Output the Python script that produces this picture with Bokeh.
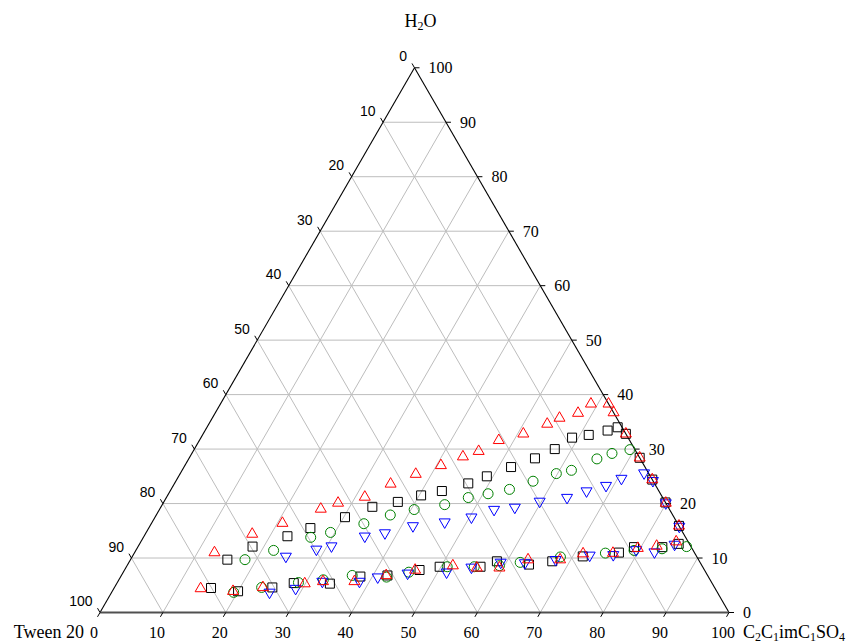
import math
from bokeh.plotting import figure
from bokeh.models import ColumnDataSource, LabelSet
from bokeh.core.properties import value
from bokeh.embed import file_html
from bokeh.resources import INLINE

# ---------------- data (wt%: C2C1imC1SO4, H2O; Tween 20 = 100 - both) ----------------
red_c = [12.7, 17.0, 20.8, 25.6, 27.8, 31.5, 34.4, 37.5, 40.7, 43.4, 45.4, 47.6, 50.9, 53.8,
         55.2, 57.7, 58.9, 61.7, 63.3, 67.2, 71.6, 75.6, 79.9, 84.1,
         85.1, 82.4, 79.6, 76.1, 71.4, 68.3, 63.2, 59.4, 55.8, 51.8, 46.2, 42.1, 37.6, 32.6,
         29.9, 23.6, 19.2, 13.8]
red_h = [11.0, 14.4, 16.4, 19.0, 20.1, 21.2, 23.6, 25.4, 27.0, 28.6, 29.6, 31.6, 32.8, 34.6,
         35.7, 36.6, 38.3, 38.3, 36.7, 32.8, 28.4, 24.4, 20.1, 15.9,
         13.0, 12.2, 11.8, 10.9, 10.8, 9.7, 9.7, 8.2, 8.2, 8.6, 7.8, 6.8, 5.7, 5.7,
         5.3, 4.6, 3.9, 4.4]

black_c = [15.4, 18.2, 22.8, 25.7, 30.2, 33.6, 37.2, 40.3, 43.2, 46.7, 49.0, 52.0, 55.0, 57.3,
           59.0, 61.4, 64.0, 65.3, 67.2, 71.6, 75.6, 79.8, 84.1,
           85.7, 83.4, 78.9, 77.0, 71.6, 67.2, 63.8, 58.4, 56.3, 49.8, 46.9, 42.3, 38.1, 33.9,
           28.1, 25.1, 20.0, 15.4]
black_h = [9.7, 12.1, 14.0, 15.5, 17.5, 19.4, 20.3, 21.5, 22.3, 23.7, 25.0, 26.7, 28.3, 30.0,
           32.1, 32.6, 33.4, 34.0, 32.8, 28.4, 24.4, 20.2, 15.9,
           12.6, 12.0, 12.0, 11.0, 10.3, 9.4, 8.8, 9.4, 8.4, 8.4, 7.8, 6.8, 6.6, 5.3,
           5.4, 4.6, 3.9, 4.5]

green_c = [18.2, 21.9, 26.6, 29.3, 33.8, 37.2, 40.5, 44.9, 48.0, 50.8, 53.8, 56.8, 59.8, 61.9,
           64.9, 66.8, 69.3,
           87.2, 83.5, 79.2, 74.9, 68.1, 62.2, 59.2, 55.3, 51.0, 45.4, 42.3, 36.7, 32.5, 28.8,
           23.4, 19.4]
green_h = [9.7, 11.4, 13.8, 14.7, 16.3, 17.9, 18.9, 19.8, 21.1, 21.8, 22.6, 24.1, 25.5, 26.1,
           28.2, 29.2, 29.9,
           12.1, 11.7, 11.4, 10.9, 10.2, 9.2, 8.6, 8.4, 8.4, 7.4, 6.5, 6.8, 6.0, 5.5,
           4.6, 3.7]

blue_c = [24.4, 28.6, 30.7, 35.1, 38.0, 41.8, 46.5, 50.3, 53.2, 56.3, 59.7, 63.7, 66.2, 68.8,
          70.6, 73.7, 75.8, 79.9, 84.2,
          85.1, 82.6, 79.5, 76.3, 72.6, 67.6, 63.0, 59.1, 54.9, 51.4, 45.3, 40.9, 38.4, 32.5,
          28.9, 25.1]
blue_h = [10.3, 11.6, 12.2, 14.0, 14.6, 15.9, 16.6, 17.5, 18.9, 19.3, 20.4, 21.1, 22.3, 23.3,
          24.6, 25.6, 24.2, 20.1, 15.8,
          12.5, 11.1, 11.5, 10.6, 10.5, 9.7, 9.1, 9.2, 8.3, 7.4, 7.2, 6.5, 5.7, 5.7,
          4.4, 3.7]

tick_values = [0, 10, 20, 30, 40, 50, 60, 70, 80, 90, 100]
grid_values = [10, 20, 30, 40, 50, 60, 70, 80, 90]

# ---------------- geometry ----------------
W, HGT = 849, 644
S = 6.29                       # px per data unit
X0 = -99.5 / S
Y0 = -(HGT - 612) / S
R3 = math.sqrt(3) / 2


def tx(c, h):
    return c + h / 2.0


def ty(h):
    return h * R3


p = figure(width=W, height=HGT, x_range=(X0, X0 + W / S), y_range=(Y0, Y0 + HGT / S),
           x_axis_type=None, y_axis_type=None, toolbar_location=None,
           output_backend="svg", min_border=0, outline_line_color=None)
p.min_border_left = p.min_border_right = p.min_border_top = p.min_border_bottom = 0
p.background_fill_color = "white"
p.border_fill_color = "white"

# grid
gx, gy = [], []
for k in grid_values:
    gx.append([tx(0, k), tx(100 - k, k)]); gy.append([ty(k), ty(k)])
    gx.append([tx(k, 0), tx(k, 100 - k)]); gy.append([0, ty(100 - k)])
    gx.append([tx(100 - k, 0), tx(0, 100 - k)]); gy.append([0, ty(100 - k)])
p.multi_line(gx, gy, line_color="#bdbdbd", line_width=1)

# edges
p.line([0, 50], [0, ty(100)], line_color="black", line_width=1.1)
p.line([100, 50], [0, ty(100)], line_color="black", line_width=1.1)
p.line([0, 100], [0, 0], line_color="#505050", line_width=2.2)

# ticks
L = 5.0 / S
bx0 = [float(k) for k in tick_values]
by0 = [0.0] * len(tick_values)
bx1 = [k - 0.5 * L for k in bx0]
by1 = [-R3 * L] * len(tick_values)
rx0 = [tx(100 - k, k) for k in tick_values]
ry0 = [ty(k) for k in tick_values]
rx1 = [x + L for x in rx0]
lx0 = [tx(0, 100 - k) for k in tick_values]
ly0 = [ty(100 - k) for k in tick_values]
lx1 = [x - 0.5 * L for x in lx0]
ly1 = [y + R3 * L for y in ly0]
p.segment(bx0 + rx0 + lx0, by0 + ry0 + ly0, bx1 + rx1 + lx1, by1 + ry0 + ly1,
          line_color="black", line_width=1)

SERIF = "Liberation Serif"
SANS = "Liberation Sans"


def labels(xs, ys, texts, font, size, align):
    src = ColumnDataSource(dict(x=list(xs), y=list(ys), text=list(texts)))
    p.add_layout(LabelSet(x="x", y="y", text="text", source=src,
                          text_font=value(font), text_font_size=value(f"{size}px"),
                          text_align=align, text_baseline="middle",
                          text_color="black"))


def ypx(page_y):
    return Y0 + (HGT - page_y) / S


tick_text = [str(k) for k in tick_values]
# bottom axis (C2C1imC1SO4)
labels([k - 6.0 / S for k in bx0], [ypx(632)] * len(tick_text), tick_text, SERIF, 16, "center")
# right axis (H2O)
labels([x + 14.0 / S for x in rx0], ry0, tick_text, SERIF, 16, "left")
# left axis (Tween 20)
labels([x - 7.5 / S for x in lx0], [y + 11.5 / S for y in ly0], tick_text, SANS, 14, "right")

# ---------------- titles with subscripts ----------------
EM = {"C": 0.667, "i": 0.278, "m": 0.778, "S": 0.556, "O": 0.722, "H": 0.722,
      "0": 0.5, "1": 0.5, "2": 0.5, "3": 0.5, "4": 0.5}


def draw_pieces(pieces, x_start, y_main, y_sub, F, f, center=False):
    widths = [sum(EM[ch] for ch in s) * (f if sub else F) / S for s, sub in pieces]
    x = x_start - (sum(widths) / 2 if center else 0)
    mx, my, mt, sx, sy, st = [], [], [], [], [], []
    for (s, sub), w in zip(pieces, widths):
        if sub:
            sx.append(x); sy.append(y_sub); st.append(s)
        else:
            mx.append(x); my.append(y_main); mt.append(s)
        x += w
    labels(mx, my, mt, SERIF, F, "left")
    labels(sx, sy, st, SERIF, f, "left")


labels([0 - 16.0 / S], [ypx(631)], ["Tween 20"], SERIF, 18, "right")

draw_pieces([("C", 0), ("2", 1), ("C", 0), ("1", 1), ("im", 0), ("C", 0), ("1", 1),
             ("SO", 0), ("4", 1)],
            100 + 14.0 / S, ypx(631), ypx(636), 18, 12)

draw_pieces([("H", 0), ("2", 1), ("O", 0)],
            50 + 6.0 / S, ypx(20), ypx(25), 18, 12, center=True)

# ---------------- data markers ----------------
def draw(cs, hs, marker, color, size):
    p.scatter([tx(c, h) for c, h in zip(cs, hs)], [ty(h) for h in hs], marker=marker,
              size=size, line_color=color, fill_color=None, line_width=1)


draw(black_c, black_h, "square", "black", 9)
draw(green_c, green_h, "circle", "green", 10)
draw(blue_c, blue_h, "inverted_triangle", "blue", 11)
draw(red_c, red_h, "triangle", "red", 11)

open("out.html", "w").write(file_html(p, INLINE))
